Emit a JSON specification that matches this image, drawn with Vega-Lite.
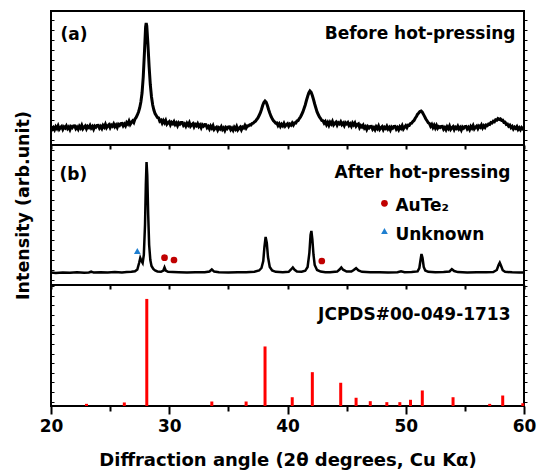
{
  "$schema": "https://vega.github.io/schema/vega-lite/v6.json",
  "padding": {"left": 13, "top": 10, "right": 0, "bottom": 0},
  "background": "white",
  "config": {
    "font": "DejaVu Sans",
    "view": {"stroke": "black", "strokeWidth": 2},
    "axis": {"grid": false, "domain": false, "labelFlush": false, "tickColor": "black", "tickWidth": 2, "labelFont": "DejaVu Sans", "labelFontWeight": "bold", "labelColor": "black", "titleFont": "DejaVu Sans", "titleFontWeight": "bold", "titleColor": "black"},
    "text": {"font": "DejaVu Sans", "fontWeight": "bold", "fontSize": 17, "color": "black"}
  },
  "datasets": {
    "before": [
      {"angle":20.0,"intensity":18.6},{"angle":20.1,"intensity":15.8},{"angle":20.2,"intensity":17.5},{"angle":20.3,"intensity":15.3},{"angle":20.4,"intensity":18.3},{"angle":20.5,"intensity":16.5},{"angle":20.6,"intensity":19.2},{"angle":20.7,"intensity":15.8},{"angle":20.8,"intensity":17.4},{"angle":20.9,"intensity":18.6},
      {"angle":21.0,"intensity":15.7},{"angle":21.1,"intensity":18.1},{"angle":21.2,"intensity":16.9},{"angle":21.3,"intensity":19.1},{"angle":21.4,"intensity":16.4},{"angle":21.5,"intensity":18.0},{"angle":21.6,"intensity":15.4},{"angle":21.7,"intensity":18.4},{"angle":21.8,"intensity":17.3},{"angle":21.9,"intensity":19.0},
      {"angle":22.0,"intensity":19.1},{"angle":22.1,"intensity":16.3},{"angle":22.2,"intensity":18.0},{"angle":22.3,"intensity":15.8},{"angle":22.4,"intensity":18.8},{"angle":22.5,"intensity":17.0},{"angle":22.6,"intensity":19.7},{"angle":22.7,"intensity":16.3},{"angle":22.8,"intensity":17.9},{"angle":22.9,"intensity":19.1},
      {"angle":23.0,"intensity":16.2},{"angle":23.1,"intensity":18.6},{"angle":23.2,"intensity":17.4},{"angle":23.3,"intensity":19.6},{"angle":23.4,"intensity":16.9},{"angle":23.5,"intensity":18.5},{"angle":23.6,"intensity":15.9},{"angle":23.7,"intensity":18.9},{"angle":23.8,"intensity":17.8},{"angle":23.9,"intensity":19.5},
      {"angle":24.0,"intensity":19.6},{"angle":24.1,"intensity":16.9},{"angle":24.2,"intensity":18.6},{"angle":24.3,"intensity":16.5},{"angle":24.4,"intensity":19.6},{"angle":24.5,"intensity":17.9},{"angle":24.6,"intensity":20.6},{"angle":24.7,"intensity":17.3},{"angle":24.8,"intensity":19.0},{"angle":24.9,"intensity":20.3},
      {"angle":25.0,"intensity":17.4},{"angle":25.1,"intensity":19.9},{"angle":25.2,"intensity":18.8},{"angle":25.3,"intensity":21.1},{"angle":25.4,"intensity":18.4},{"angle":25.5,"intensity":20.1},{"angle":25.6,"intensity":17.6},{"angle":25.7,"intensity":20.7},{"angle":25.8,"intensity":19.6},{"angle":25.9,"intensity":21.4},
      {"angle":26.0,"intensity":21.6},{"angle":26.1,"intensity":19.1},{"angle":26.2,"intensity":21.0},{"angle":26.3,"intensity":19.1},{"angle":26.4,"intensity":22.4},{"angle":26.5,"intensity":20.9},{"angle":26.6,"intensity":23.8},{"angle":26.7,"intensity":20.7},{"angle":26.8,"intensity":22.6},{"angle":26.9,"intensity":24.1},
      {"angle":27.0,"intensity":22.5},{"angle":27.1,"intensity":26},{"angle":27.2,"intensity":27.5},{"angle":27.3,"intensity":30},{"angle":27.4,"intensity":33},{"angle":27.5,"intensity":37},{"angle":27.6,"intensity":43},{"angle":27.7,"intensity":52},{"angle":27.8,"intensity":68},{"angle":27.9,"intensity":92},
      {"angle":28.0,"intensity":118},{"angle":28.05,"intensity":122},{"angle":28.1,"intensity":119},{"angle":28.2,"intensity":100},{"angle":28.3,"intensity":78},{"angle":28.4,"intensity":60},{"angle":28.5,"intensity":48},{"angle":28.6,"intensity":40},{"angle":28.7,"intensity":35},{"angle":28.8,"intensity":31.5},{"angle":28.9,"intensity":29.5},
      {"angle":29.0,"intensity":27.5},{"angle":29.1,"intensity":27.1},{"angle":29.2,"intensity":23.8},{"angle":29.3,"intensity":24.8},{"angle":29.4,"intensity":22.0},{"angle":29.5,"intensity":24.5},{"angle":29.6,"intensity":22.3},{"angle":29.7,"intensity":24.6},{"angle":29.8,"intensity":20.9},{"angle":29.9,"intensity":22.3},
      {"angle":30.0,"intensity":23.4},{"angle":30.1,"intensity":20.3},{"angle":30.2,"intensity":22.6},{"angle":30.3,"intensity":21.3},{"angle":30.4,"intensity":23.4},{"angle":30.5,"intensity":20.5},{"angle":30.6,"intensity":22.0},{"angle":30.7,"intensity":19.3},{"angle":30.8,"intensity":22.2},{"angle":30.9,"intensity":20.9},
      {"angle":31.0,"intensity":22.5},{"angle":31.1,"intensity":22.5},{"angle":31.2,"intensity":19.6},{"angle":31.3,"intensity":21.1},{"angle":31.4,"intensity":18.8},{"angle":31.5,"intensity":21.7},{"angle":31.6,"intensity":19.8},{"angle":31.7,"intensity":22.3},{"angle":31.8,"intensity":18.8},{"angle":31.9,"intensity":20.3},
      {"angle":32.0,"intensity":21.4},{"angle":32.1,"intensity":18.3},{"angle":32.2,"intensity":20.6},{"angle":32.3,"intensity":19.3},{"angle":32.4,"intensity":21.4},{"angle":32.5,"intensity":18.5},{"angle":32.6,"intensity":20.0},{"angle":32.7,"intensity":17.3},{"angle":32.8,"intensity":20.2},{"angle":32.9,"intensity":18.9},
      {"angle":33.0,"intensity":20.5},{"angle":33.1,"intensity":20.35},{"angle":33.2,"intensity":17.3},{"angle":33.3,"intensity":18.65},{"angle":33.4,"intensity":16.2},{"angle":33.5,"intensity":18.95},{"angle":33.6,"intensity":16.9},{"angle":33.7,"intensity":19.25},{"angle":33.8,"intensity":15.6},{"angle":33.9,"intensity":16.95},
      {"angle":34.0,"intensity":17.9},{"angle":34.1,"intensity":14.9},{"angle":34.2,"intensity":17.3},{"angle":34.3,"intensity":16.1},{"angle":34.4,"intensity":18.3},{"angle":34.5,"intensity":15.5},{"angle":34.6,"intensity":17.1},{"angle":34.7,"intensity":14.5},{"angle":34.8,"intensity":17.5},{"angle":34.9,"intensity":16.3},
      {"angle":35.0,"intensity":18.0},{"angle":35.1,"intensity":18.1},{"angle":35.2,"intensity":15.3},{"angle":35.3,"intensity":16.9},{"angle":35.4,"intensity":14.7},{"angle":35.5,"intensity":17.7},{"angle":35.6,"intensity":15.9},{"angle":35.7,"intensity":18.5},{"angle":35.8,"intensity":15.1},{"angle":35.9,"intensity":16.7},
      {"angle":36.0,"intensity":17.9},{"angle":36.1,"intensity":15.2},{"angle":36.2,"intensity":17.9},{"angle":36.3,"intensity":17.0},{"angle":36.4,"intensity":19.5},{"angle":36.5,"intensity":17.0},{"angle":36.6,"intensity":19.1},{"angle":36.7,"intensity":19},{"angle":36.8,"intensity":20.2},{"angle":36.9,"intensity":20},
      {"angle":37.0,"intensity":21.5},{"angle":37.1,"intensity":21.8},{"angle":37.2,"intensity":23},{"angle":37.3,"intensity":23.8},{"angle":37.4,"intensity":25.5},{"angle":37.5,"intensity":27},{"angle":37.6,"intensity":29.5},{"angle":37.7,"intensity":32},{"angle":37.8,"intensity":35.5},{"angle":37.9,"intensity":39.5},
      {"angle":38.0,"intensity":42.5},{"angle":38.1,"intensity":44},{"angle":38.2,"intensity":42.8},{"angle":38.3,"intensity":39.5},{"angle":38.4,"intensity":35.5},{"angle":38.5,"intensity":32},{"angle":38.6,"intensity":28.8},{"angle":38.7,"intensity":26.5},{"angle":38.8,"intensity":24.5},{"angle":38.9,"intensity":23.2},
      {"angle":39.0,"intensity":21.8},{"angle":39.1,"intensity":22.0},{"angle":39.2,"intensity":19.4},{"angle":39.3,"intensity":21.2},{"angle":39.4,"intensity":18.6},{"angle":39.5,"intensity":20.8},{"angle":39.6,"intensity":19.2},{"angle":39.7,"intensity":21.6},{"angle":39.8,"intensity":18.9},{"angle":39.9,"intensity":20.3},
      {"angle":40.0,"intensity":21.3},{"angle":40.1,"intensity":18.8},{"angle":40.2,"intensity":20.9},{"angle":40.3,"intensity":19.9},{"angle":40.4,"intensity":22.0},{"angle":40.5,"intensity":20.0},{"angle":40.6,"intensity":22.2},{"angle":40.7,"intensity":22.0},{"angle":40.8,"intensity":24},{"angle":40.9,"intensity":24.5},
      {"angle":41.0,"intensity":26.5},{"angle":41.1,"intensity":28},{"angle":41.2,"intensity":30.5},{"angle":41.3,"intensity":33},{"angle":41.4,"intensity":36.5},{"angle":41.5,"intensity":40},{"angle":41.6,"intensity":44.5},{"angle":41.7,"intensity":48.5},{"angle":41.8,"intensity":52},{"angle":41.9,"intensity":54},
      {"angle":42.0,"intensity":52.8},{"angle":42.1,"intensity":49.5},{"angle":42.2,"intensity":45.5},{"angle":42.3,"intensity":41},{"angle":42.4,"intensity":37},{"angle":42.5,"intensity":33},{"angle":42.6,"intensity":30.5},{"angle":42.7,"intensity":28},{"angle":42.8,"intensity":26.5},{"angle":42.9,"intensity":24.5},
      {"angle":43.0,"intensity":24.2},{"angle":43.1,"intensity":21.8},{"angle":43.2,"intensity":23.4},{"angle":43.3,"intensity":20.4},{"angle":43.4,"intensity":22.6},{"angle":43.5,"intensity":19.8},{"angle":43.6,"intensity":22.8},{"angle":43.7,"intensity":21.0},{"angle":43.8,"intensity":23.5},{"angle":43.9,"intensity":20.1},
      {"angle":44.0,"intensity":21.7},{"angle":44.1,"intensity":22.9},{"angle":44.2,"intensity":19.9},{"angle":44.3,"intensity":22.3},{"angle":44.4,"intensity":21.1},{"angle":44.5,"intensity":23.2},{"angle":44.6,"intensity":20.4},{"angle":44.7,"intensity":21.9},{"angle":44.8,"intensity":19.4},{"angle":44.9,"intensity":22.3},
      {"angle":45.0,"intensity":21.1},{"angle":45.1,"intensity":22.4},{"angle":45.2,"intensity":19.6},{"angle":45.3,"intensity":21.2},{"angle":45.4,"intensity":18.9},{"angle":45.5,"intensity":21.9},{"angle":45.6,"intensity":20.1},{"angle":45.7,"intensity":22.0},{"angle":45.8,"intensity":18.8},{"angle":45.9,"intensity":20.4},
      {"angle":46.0,"intensity":21.2},{"angle":46.1,"intensity":17.4},{"angle":46.2,"intensity":19.4},{"angle":46.3,"intensity":18.0},{"angle":46.4,"intensity":19.8},{"angle":46.5,"intensity":16.9},{"angle":46.6,"intensity":18.4},{"angle":46.7,"intensity":15.6},{"angle":46.8,"intensity":18.4},{"angle":46.9,"intensity":17.0},
      {"angle":47.0,"intensity":18.5},{"angle":47.1,"intensity":18.6},{"angle":47.2,"intensity":15.8},{"angle":47.3,"intensity":17.4},{"angle":47.4,"intensity":15.2},{"angle":47.5,"intensity":18.2},{"angle":47.6,"intensity":16.4},{"angle":47.7,"intensity":19.0},{"angle":47.8,"intensity":15.6},{"angle":47.9,"intensity":17.2},
      {"angle":48.0,"intensity":18.4},{"angle":48.1,"intensity":15.4},{"angle":48.2,"intensity":17.8},{"angle":48.3,"intensity":16.6},{"angle":48.4,"intensity":18.8},{"angle":48.5,"intensity":16.0},{"angle":48.6,"intensity":17.6},{"angle":48.7,"intensity":15.0},{"angle":48.8,"intensity":18.0},{"angle":48.9,"intensity":16.8},
      {"angle":49.0,"intensity":18.5},{"angle":49.1,"intensity":18.6},{"angle":49.2,"intensity":15.8},{"angle":49.3,"intensity":17.4},{"angle":49.4,"intensity":15.2},{"angle":49.5,"intensity":18.2},{"angle":49.6,"intensity":16.6},{"angle":49.7,"intensity":19.2},{"angle":49.8,"intensity":16.0},{"angle":49.9,"intensity":17.8},
      {"angle":50.0,"intensity":19.4},{"angle":50.1,"intensity":17.4},{"angle":50.2,"intensity":19.8},{"angle":50.3,"intensity":19.6},{"angle":50.4,"intensity":21.5},{"angle":50.5,"intensity":21.8},{"angle":50.6,"intensity":23.5},{"angle":50.7,"intensity":24.5},{"angle":50.8,"intensity":26.8},{"angle":50.9,"intensity":28.5},
      {"angle":51.0,"intensity":30.8},{"angle":51.1,"intensity":32},{"angle":51.2,"intensity":33.6},{"angle":51.3,"intensity":34},{"angle":51.4,"intensity":32.8},{"angle":51.5,"intensity":30.6},{"angle":51.6,"intensity":28.4},{"angle":51.7,"intensity":26},{"angle":51.8,"intensity":24.2},{"angle":51.9,"intensity":22.3},
      {"angle":52.0,"intensity":21.5},{"angle":52.1,"intensity":18.8},{"angle":52.2,"intensity":20.6},{"angle":52.3,"intensity":17.6},{"angle":52.4,"intensity":19.8},{"angle":52.5,"intensity":17.0},{"angle":52.6,"intensity":19.6},{"angle":52.7,"intensity":16.8},{"angle":52.8,"intensity":18.4},{"angle":52.9,"intensity":17.5},
      {"angle":53.0,"intensity":18.5},{"angle":53.1,"intensity":18.6},{"angle":53.2,"intensity":15.8},{"angle":53.3,"intensity":17.4},{"angle":53.4,"intensity":15.2},{"angle":53.5,"intensity":18.2},{"angle":53.6,"intensity":16.4},{"angle":53.7,"intensity":19.0},{"angle":53.8,"intensity":15.6},{"angle":53.9,"intensity":17.2},
      {"angle":54.0,"intensity":18.4},{"angle":54.1,"intensity":15.4},{"angle":54.2,"intensity":17.8},{"angle":54.3,"intensity":16.6},{"angle":54.4,"intensity":18.8},{"angle":54.5,"intensity":16.0},{"angle":54.6,"intensity":17.6},{"angle":54.7,"intensity":15.0},{"angle":54.8,"intensity":18.0},{"angle":54.9,"intensity":16.8},
      {"angle":55.0,"intensity":18.5},{"angle":55.1,"intensity":18.7},{"angle":55.2,"intensity":16.0},{"angle":55.3,"intensity":17.6},{"angle":55.4,"intensity":15.4},{"angle":55.5,"intensity":18.5},{"angle":55.6,"intensity":16.8},{"angle":55.7,"intensity":19.3},{"angle":55.8,"intensity":16.1},{"angle":55.9,"intensity":17.8},
      {"angle":56.0,"intensity":19.0},{"angle":56.1,"intensity":16.5},{"angle":56.2,"intensity":19.0},{"angle":56.3,"intensity":17.8},{"angle":56.4,"intensity":20.0},{"angle":56.5,"intensity":17.2},{"angle":56.6,"intensity":19.2},{"angle":56.7,"intensity":17.6},{"angle":56.8,"intensity":20.0},{"angle":56.9,"intensity":19.4},
      {"angle":57.0,"intensity":21.0},{"angle":57.1,"intensity":20.6},{"angle":57.2,"intensity":22.4},{"angle":57.3,"intensity":22.0},{"angle":57.4,"intensity":23.8},{"angle":57.5,"intensity":23.2},{"angle":57.6,"intensity":25.2},{"angle":57.7,"intensity":24.8},{"angle":57.8,"intensity":26.4},{"angle":57.9,"intensity":25.6},
      {"angle":58.0,"intensity":26.2},{"angle":58.1,"intensity":24.6},{"angle":58.2,"intensity":24.8},{"angle":58.3,"intensity":22.6},{"angle":58.4,"intensity":22.8},{"angle":58.5,"intensity":20.6},{"angle":58.6,"intensity":21.0},{"angle":58.7,"intensity":18.8},{"angle":58.8,"intensity":19.8},{"angle":58.9,"intensity":17.4},
      {"angle":59.0,"intensity":18.6},{"angle":59.1,"intensity":16.0},{"angle":59.2,"intensity":17.8},{"angle":59.3,"intensity":16.6},{"angle":59.4,"intensity":18.4},{"angle":59.5,"intensity":15.6},{"angle":59.6,"intensity":17.2},{"angle":59.7,"intensity":15.2},{"angle":59.8,"intensity":17.4},{"angle":59.9,"intensity":16.2},{"angle":60.0,"intensity":17.4}
    ],
    "after": [
      {"angle":20.0,"intensity":12.5},{"angle":20.4,"intensity":12},{"angle":21.0,"intensity":12.6},{"angle":21.6,"intensity":12.2},{"angle":22.2,"intensity":12.8},{"angle":22.8,"intensity":12.3},{"angle":23.2,"intensity":12.5},{"angle":23.4,"intensity":13.3},{"angle":23.6,"intensity":12.4},{"angle":24.2,"intensity":12.8},{"angle":24.8,"intensity":12.4},{"angle":25.4,"intensity":12.9},{"angle":26.0,"intensity":12.6},{"angle":26.4,"intensity":13},{"angle":26.8,"intensity":13.2},{"angle":27.1,"intensity":13.8},{"angle":27.3,"intensity":15.5},{"angle":27.45,"intensity":22},{"angle":27.55,"intensity":27},{"angle":27.65,"intensity":24},{"angle":27.75,"intensity":22},{"angle":27.85,"intensity":30},{"angle":27.95,"intensity":60},{"angle":28.02,"intensity":100},{"angle":28.08,"intensity":123},{"angle":28.14,"intensity":110},{"angle":28.22,"intensity":70},{"angle":28.3,"intensity":40},{"angle":28.4,"intensity":25},{"angle":28.5,"intensity":19},{"angle":28.65,"intensity":16},{"angle":28.8,"intensity":14.5},{"angle":29.0,"intensity":13.5},{"angle":29.3,"intensity":13.2},{"angle":29.5,"intensity":14.5},{"angle":29.6,"intensity":17.5},{"angle":29.7,"intensity":14.5},{"angle":29.9,"intensity":13.2},{"angle":30.3,"intensity":13},{"angle":30.8,"intensity":12.8},{"angle":31.5,"intensity":12.6},{"angle":32.2,"intensity":12.8},{"angle":33.0,"intensity":12.8},{"angle":33.4,"intensity":13.5},{"angle":33.6,"intensity":15.5},{"angle":33.8,"intensity":13.4},{"angle":34.2,"intensity":12.7},{"angle":35.0,"intensity":12.5},{"angle":35.8,"intensity":12.8},{"angle":36.5,"intensity":12.7},{"angle":37.2,"intensity":13.2},{"angle":37.6,"intensity":14.5},{"angle":37.8,"intensity":17},{"angle":37.95,"intensity":24},{"angle":38.05,"intensity":38},{"angle":38.15,"intensity":48},{"angle":38.25,"intensity":42},{"angle":38.35,"intensity":28},{"angle":38.5,"intensity":18},{"angle":38.7,"intensity":14.5},{"angle":39.0,"intensity":13.2},{"angle":39.6,"intensity":12.8},{"angle":40.1,"intensity":13.2},{"angle":40.3,"intensity":15.5},{"angle":40.45,"intensity":17.5},{"angle":40.6,"intensity":15.2},{"angle":40.8,"intensity":13.4},{"angle":41.2,"intensity":13.2},{"angle":41.5,"intensity":14.2},{"angle":41.7,"intensity":18},{"angle":41.85,"intensity":32},{"angle":41.95,"intensity":50},{"angle":42.02,"intensity":54},{"angle":42.1,"intensity":46},{"angle":42.2,"intensity":30},{"angle":42.3,"intensity":20},{"angle":42.5,"intensity":15},{"angle":42.8,"intensity":13.4},{"angle":43.2,"intensity":12.8},{"angle":43.6,"intensity":12.8},{"angle":44.2,"intensity":13.4},{"angle":44.4,"intensity":15.5},{"angle":44.55,"intensity":17.5},{"angle":44.7,"intensity":15.3},{"angle":45.0,"intensity":13.5},{"angle":45.4,"intensity":13.4},{"angle":45.6,"intensity":15},{"angle":45.8,"intensity":16.8},{"angle":46.0,"intensity":14.5},{"angle":46.3,"intensity":13.2},{"angle":47.0,"intensity":12.8},{"angle":47.8,"intensity":12.8},{"angle":48.5,"intensity":12.6},{"angle":49.3,"intensity":12.8},{"angle":49.6,"intensity":13.6},{"angle":49.9,"intensity":12.8},{"angle":50.5,"intensity":12.9},{"angle":51.0,"intensity":13.6},{"angle":51.15,"intensity":17},{"angle":51.25,"intensity":25},{"angle":51.33,"intensity":31},{"angle":51.42,"intensity":27},{"angle":51.52,"intensity":18},{"angle":51.65,"intensity":14.5},{"angle":51.9,"intensity":13.2},{"angle":52.5,"intensity":12.8},{"angle":53.2,"intensity":12.9},{"angle":53.7,"intensity":13.5},{"angle":53.9,"intensity":15.8},{"angle":54.1,"intensity":14},{"angle":54.4,"intensity":12.9},{"angle":55.2,"intensity":12.6},{"angle":56.0,"intensity":12.8},{"angle":56.8,"intensity":12.7},{"angle":57.4,"intensity":13},{"angle":57.7,"intensity":15},{"angle":57.85,"intensity":20},{"angle":57.95,"intensity":22.3},{"angle":58.05,"intensity":19.5},{"angle":58.2,"intensity":14.8},{"angle":58.4,"intensity":13.2},{"angle":59.0,"intensity":12.7},{"angle":59.6,"intensity":12.5},{"angle":60.0,"intensity":12.6}
    ],
    "markers": [
      {"angle":27.3,"intensity":34,"phase":"Unknown"},
      {"angle":29.6,"intensity":27.3,"phase":"AuTe2"},
      {"angle":30.4,"intensity":25,"phase":"AuTe2"},
      {"angle":42.9,"intensity":24,"phase":"AuTe2"},
      {"angle":48.2,"intensity":81.7,"phase":"AuTe2"},
      {"angle":48.2,"intensity":54,"phase":"Unknown"}
    ],
    "legendText": [
      {"angle":49.13,"intensity":74,"label":"AuTe₂"},
      {"angle":49.13,"intensity":45,"label":"Unknown"}
    ],
    "sticks": [
      {"angle":23.0,"intensity":2},{"angle":26.2,"intensity":3.3},{"angle":28.1,"intensity":100},{"angle":33.6,"intensity":4.2},{"angle":36.5,"intensity":4.2},{"angle":38.1,"intensity":55.6},{"angle":40.4,"intensity":8.2},{"angle":42.1,"intensity":31.6},{"angle":44.5,"intensity":21.7},{"angle":45.8,"intensity":7.7},{"angle":47.0,"intensity":4.5},{"angle":48.4,"intensity":3.6},{"angle":49.5,"intensity":3.6},{"angle":50.4,"intensity":5.8},{"angle":51.4,"intensity":14.5},{"angle":54.0,"intensity":8.2},{"angle":57.1,"intensity":2},{"angle":58.2,"intensity":9.8},{"angle":59.9,"intensity":2.6}
    ]
  },
  "vconcat": [
    {
      "width": 473, "height": 134,
      "resolve": {"axis": {"y": "independent"}},
      "layer": [
        {
          "data": {"name": "before"},
          "mark": {"type": "line", "color": "black", "strokeWidth": 3, "clip": true},
          "encoding": {
            "x": {"field": "angle", "type": "quantitative", "scale": {"domain": [20, 60], "nice": false},
                  "axis": {"values": [20,25,30,35,40,45,50,55,60], "labels": false, "tickSize": 4, "title": null}},
            "y": {"field": "intensity", "type": "quantitative", "scale": {"domain": [0, 134], "nice": false},
                  "axis": {"values": [5,15,25,35,45,55,65,75,85,95,105,115,125], "labels": false, "tickSize": -3, "tickWidth": 1, "title": null}}
          }
        },
        {
          "data": {"values": [{"angle": 20.8, "intensity": 105, "label": "(a)"}]},
          "mark": {"type": "text", "align": "left", "baseline": "alphabetic"},
          "encoding": {"x": {"field": "angle", "type": "quantitative"}, "y": {"field": "intensity", "type": "quantitative", "axis": null}, "text": {"field": "label"}}
        },
        {
          "data": {"values": [{"angle": 59.28, "intensity": 106.5, "label": "Before hot-pressing"}]},
          "mark": {"type": "text", "align": "right", "baseline": "alphabetic"},
          "encoding": {"x": {"field": "angle", "type": "quantitative"},
                       "y": {"field": "intensity", "type": "quantitative", "axis": {"orient": "right", "values": [5,15,25,35,45,55,65,75,85,95,105,115,125], "labels": false, "tickSize": 3, "tickWidth": 1, "title": null}},
                       "text": {"field": "label"}}
        }
      ]
    },
    {
      "width": 473, "height": 140,
      "resolve": {"axis": {"y": "independent"}},
      "layer": [
        {
          "data": {"name": "after"},
          "mark": {"type": "line", "color": "black", "strokeWidth": 2.5, "clip": true},
          "encoding": {
            "x": {"field": "angle", "type": "quantitative", "scale": {"domain": [20, 60], "nice": false},
                  "axis": {"values": [20,25,30,35,40,45,50,55,60], "labels": false, "tickSize": 4, "title": null}},
            "y": {"field": "intensity", "type": "quantitative", "scale": {"domain": [0, 140], "nice": false},
                  "axis": {"values": [5,15,25,35,45,55,65,75,85,95,105,115,125,135], "labels": false, "tickSize": -3, "tickWidth": 1,
                           "title": "Intensity (arb.unit)", "titleFontSize": 17.5, "titlePadding": 18, "titleY": 60}}
          }
        },
        {
          "data": {"name": "markers"},
          "mark": {"type": "point", "filled": true, "size": 45, "opacity": 1},
          "encoding": {
            "x": {"field": "angle", "type": "quantitative"},
            "y": {"field": "intensity", "type": "quantitative", "axis": null},
            "color": {"field": "phase", "type": "nominal", "scale": {"domain": ["AuTe2", "Unknown"], "range": ["#c00000", "#1f7fd0"]}, "legend": null},
            "shape": {"field": "phase", "type": "nominal", "scale": {"domain": ["AuTe2", "Unknown"], "range": ["circle", "triangle-up"]}, "legend": null}
          }
        },
        {
          "data": {"name": "legendText"},
          "mark": {"type": "text", "align": "left", "baseline": "alphabetic"},
          "encoding": {"x": {"field": "angle", "type": "quantitative"}, "y": {"field": "intensity", "type": "quantitative", "axis": null}, "text": {"field": "label"}}
        },
        {
          "data": {"values": [{"angle": 20.72, "intensity": 105.5, "label": "(b)"}]},
          "mark": {"type": "text", "align": "left", "baseline": "alphabetic"},
          "encoding": {"x": {"field": "angle", "type": "quantitative"}, "y": {"field": "intensity", "type": "quantitative", "axis": null}, "text": {"field": "label"}}
        },
        {
          "data": {"values": [{"angle": 58.86, "intensity": 107, "label": "After hot-pressing"}]},
          "mark": {"type": "text", "align": "right", "baseline": "alphabetic"},
          "encoding": {"x": {"field": "angle", "type": "quantitative"},
                       "y": {"field": "intensity", "type": "quantitative", "axis": {"orient": "right", "values": [5,15,25,35,45,55,65,75,85,95,105,115,125,135], "labels": false, "tickSize": 3, "tickWidth": 1, "title": null}},
                       "text": {"field": "label"}}
        }
      ]
    },
    {
      "width": 473, "height": 121,
      "resolve": {"axis": {"y": "independent"}},
      "layer": [
        {
          "data": {"name": "sticks"},
          "mark": {"type": "rule", "color": "#ff0000", "strokeWidth": 3},
          "encoding": {
            "x": {"field": "angle", "type": "quantitative", "scale": {"domain": [20, 60], "nice": false},
                  "axis": {"values": [20,25,30,35,40,45,50,55,60], "labelExpr": "datum.value % 10 === 0 ? datum.label : ''",
                           "tickSize": {"condition": {"test": "datum.value % 10 === 0", "value": 8}, "value": 5},
                           "labelFontSize": 17, "labelPadding": 4,
                           "title": "Diffraction angle (2θ degrees, Cu Kα)", "titleFontSize": 18, "titlePadding": 17}},
            "y": {"field": "intensity", "type": "quantitative", "scale": {"domain": [0, 113], "nice": false},
                  "axis": {"values": [4,13,22,31,40,49,58,67,76,85,94,103,112], "labels": false, "tickSize": -3, "tickWidth": 1, "title": null}},
            "y2": {"datum": 0}
          }
        },
        {
          "data": {"values": [{"angle": 58.86, "intensity": 80.6, "label": "JCPDS#00-049-1713"}]},
          "mark": {"type": "text", "align": "right", "baseline": "alphabetic"},
          "encoding": {"x": {"field": "angle", "type": "quantitative"},
                       "y": {"field": "intensity", "type": "quantitative", "axis": {"orient": "right", "values": [4,13,22,31,40,49,58,67,76,85,94,103,112], "labels": false, "tickSize": 3, "tickWidth": 1, "title": null}},
                       "text": {"field": "label"}}
        }
      ]
    }
  ],
  "spacing": 0,
  "bounds": "flush"
}
